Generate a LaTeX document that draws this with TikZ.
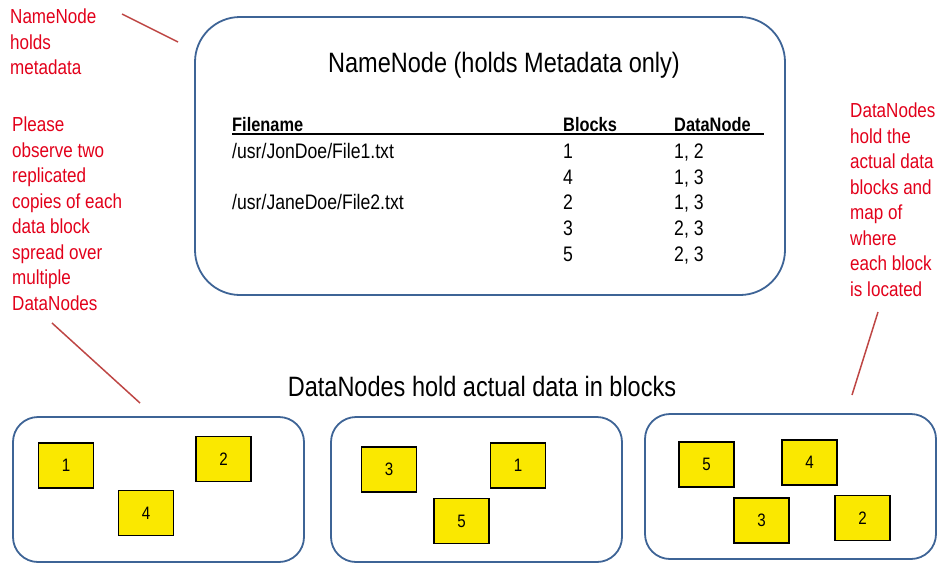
\documentclass[tikz,border=0pt]{standalone}
\usepackage{fontspec}
\setmainfont{Liberation Sans}[FakeStretch=0.84]
\definecolor{txtred}{RGB}{226,0,26}
\definecolor{linered}{RGB}{190,70,68}
\definecolor{boxblue}{RGB}{62,100,150}
\definecolor{blockyellow}{RGB}{250,232,0}
\begin{document}
\begin{tikzpicture}[x=1pt,y=-1pt,
  note/.style={text=txtred,font=\fontsize{20.3}{25.5}\selectfont,align=left,anchor=north west,inner sep=0pt},
  pointer/.style={draw=linered,line width=1.5pt},
  holder/.style={draw=boxblue,line width=1.8pt,rounded corners=#1},
  blk/.style={draw=black,line width=1.2pt,fill=blockyellow,minimum width=55pt,minimum height=45pt,inner sep=0pt,font=\fontsize{18}{20}\selectfont},
  tab/.style={anchor=base west,inner sep=0pt,font=\fontsize{21}{24}\selectfont},
  tabh/.style={tab,font=\fontsize{19.5}{24}\selectfont\bfseries},
  heading/.style={inner sep=0pt,anchor=base,font=\fontsize{28}{30}\selectfont}]
\useasboundingbox (0,0) rectangle (943,563);
% NameNode box
\draw[holder=45pt] (195,17) rectangle (785,295);
\node[heading] (title) at (504,72) {NameNode (holds Metadata only)};
% table
\node[tabh] (hfile) at (232,131) {Filename};
\node[tabh] (hblk) at (563,131) {Blocks};
\node[tabh] (hdn) at (674,131) {DataNode};
\coordinate (ul1) at (232,134);
\coordinate (ul2) at (764,134);
\draw[line width=1.5pt] (ul1) -- (ul2);
\node[tab] (f1) at (232,158) {/usr/JonDoe/File1.txt};
\node[tab] (b1) at (563,158) {1};
\node[tab] (d1) at (674,158) {1, 2};
\node[tab] (b2) at (563,184) {4};
\node[tab] (d2) at (674,184) {1, 3};
\node[tab] (f2) at (232,209) {/usr/JaneDoe/File2.txt};
\node[tab] (b3) at (563,209) {2};
\node[tab] (d3) at (674,209) {1, 3};
\node[tab] (b4) at (563,235) {3};
\node[tab] (d4) at (674,235) {2, 3};
\node[tab] (b5) at (563,261) {5};
\node[tab] (d5) at (674,261) {2, 3};
% notes
\node[note] (n1) at (10,9) {NameNode\\holds\\metadata};
\node[note] (n2) at (12,117) {Please\\observe two\\replicated\\copies of each\\data block\\spread over\\multiple\\DataNodes};
\node[note] (n3) at (850,103) {DataNodes\\hold the\\actual data\\blocks and\\map of\\where\\each block\\is located};
\coordinate (p1a) at (122,14);  \coordinate (p1b) at (178,42);
\coordinate (p2a) at (52,323);  \coordinate (p2b) at (140,403);
\coordinate (p3a) at (878,312); \coordinate (p3b) at (852,395);
\draw[pointer] (p1a) -- (p1b);
\draw[pointer] (p2a) -- (p2b);
\draw[pointer] (p3a) -- (p3b);
% DataNodes heading
\node[heading] (dnh) at (482,396) {DataNodes hold actual data in blocks};
% DataNode boxes
\draw[holder=25pt] (13,417) rectangle (304,562);
\draw[holder=25pt] (331,417) rectangle (622,562);
\draw[holder=25pt] (645,414) rectangle (936,559);
% blocks
\node[blk] (a1) at (66,465.5) {1};
\node[blk] (a2) at (223.5,459) {2};
\node[blk] (a4) at (146,513) {4};
\node[blk] (c3) at (389,469.5) {3};
\node[blk] (c1) at (518,465.5) {1};
\node[blk] (c5) at (461.5,521) {5};
\node[blk] (e5) at (706.5,464.5) {5};
\node[blk] (e4) at (809.5,462.5) {4};
\node[blk] (e3) at (761.5,520.5) {3};
\node[blk] (e2) at (862.5,518) {2};
\end{tikzpicture}
\end{document}
